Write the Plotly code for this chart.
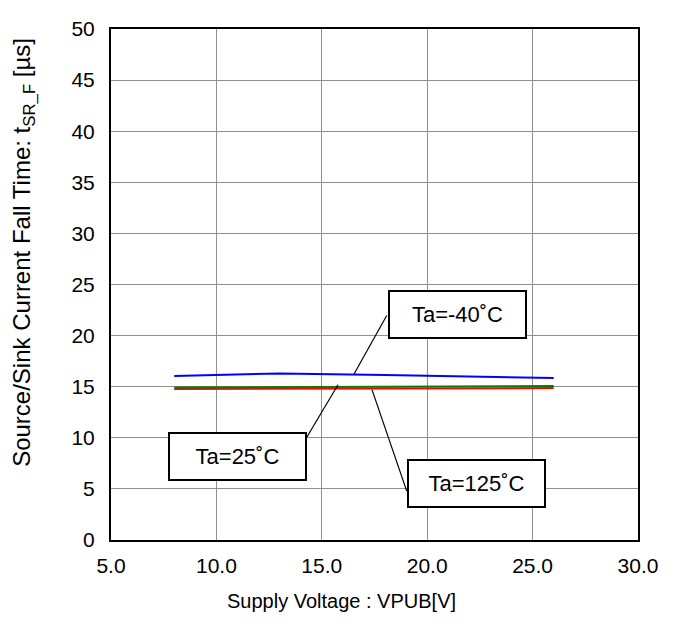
import plotly.graph_objects as go

# Data
x_m40 = [8.0, 13.0, 18.0, 26.0]
y_m40 = [16.05, 16.3, 16.15, 15.85]
x_25 = [8.0, 13.0, 18.0, 26.0]
y_25 = [14.93, 14.98, 15.02, 15.06]
x_125 = [8.0, 13.0, 18.0, 26.0]
y_125 = [14.78, 14.8, 14.83, 14.87]

x_ticks = [5, 10, 15, 20, 25, 30]
x_ticklabels = ["5.0", "10.0", "15.0", "20.0", "25.0", "30.0"]
y_ticks = list(range(0, 51, 5))

x_title = "Supply Voltage : VPUB[V]"
y_title = "Source/Sink Current Fall Time: t<sub>SR_F</sub> [µs]"

FONT = "Liberation Sans, Arial, sans-serif"

fig = go.Figure()
fig.add_trace(go.Scatter(x=x_125, y=y_125, mode="lines", line=dict(color="#ff0000", width=2), name="Ta=125˚C"))
fig.add_trace(go.Scatter(x=x_25, y=y_25, mode="lines", line=dict(color="#008000", width=2), name="Ta=25˚C"))
fig.add_trace(go.Scatter(x=x_m40, y=y_m40, mode="lines", line=dict(color="#0000ff", width=2), name="Ta=-40˚C"))

# leader lines
leaders = [
    ((18.08, 21.97), (16.53, 16.24)),
    ((14.28, 10.03), (15.77, 15.19)),
    ((19.03, 4.78), (17.38, 14.71)),
]
for (x0, y0), (x1, y1) in leaders:
    fig.add_shape(type="line", x0=x0, y0=y0, x1=x1, y1=y1, xref="x", yref="y",
                  line=dict(color="black", width=1.2), layer="above")

boxes = [
    ("Ta=-40˚C", 21.44, 22.02),
    ("Ta=25˚C", 10.98, 8.21),
    ("Ta=125˚C", 22.34, 5.54),
]
for txt, bx, by in boxes:
    fig.add_annotation(x=bx, y=by, xref="x", yref="y", text=txt, showarrow=False,
                       font=dict(family=FONT, size=22, color="black"),
                       bgcolor="white", bordercolor="black", borderwidth=2,
                       borderpad=0, width=135, height=45, align="center", valign="middle")

# axis titles as annotations (positioned like reference)
fig.add_annotation(x=0.438, y=-0.12, xref="paper", yref="paper", text=x_title,
                   showarrow=False, xanchor="center", yanchor="middle",
                   font=dict(family=FONT, size=20, color="black"))
fig.add_annotation(x=-0.165, y=0.562, xref="paper", yref="paper", text=y_title,
                   showarrow=False, xanchor="center", yanchor="middle", textangle=-90,
                   font=dict(family=FONT, size=24, color="black"))

fig.update_layout(
    width=675, height=644,
    margin=dict(l=103, r=45, t=9, b=112),
    paper_bgcolor="white", plot_bgcolor="white",
    showlegend=False,
    font=dict(family=FONT, size=21, color="black"),
)
fig.update_xaxes(
    range=[5, 30], tickvals=x_ticks, ticktext=x_ticklabels,
    showgrid=True, gridcolor="#909090", gridwidth=1,
    showline=True, linecolor="black", linewidth=2, mirror=True,
    ticks="", zeroline=False, ticklabelstandoff=6, ticklabeloverflow="allow",
    tickfont=dict(size=21),
)
fig.update_yaxes(
    range=[0, 50], tickvals=y_ticks,
    showgrid=True, gridcolor="#909090", gridwidth=1,
    showline=True, linecolor="black", linewidth=2, mirror=True,
    ticks="", zeroline=False, ticklabelstandoff=10, ticklabeloverflow="allow",
    tickfont=dict(size=21),
)

fig.write_html("out.html")
